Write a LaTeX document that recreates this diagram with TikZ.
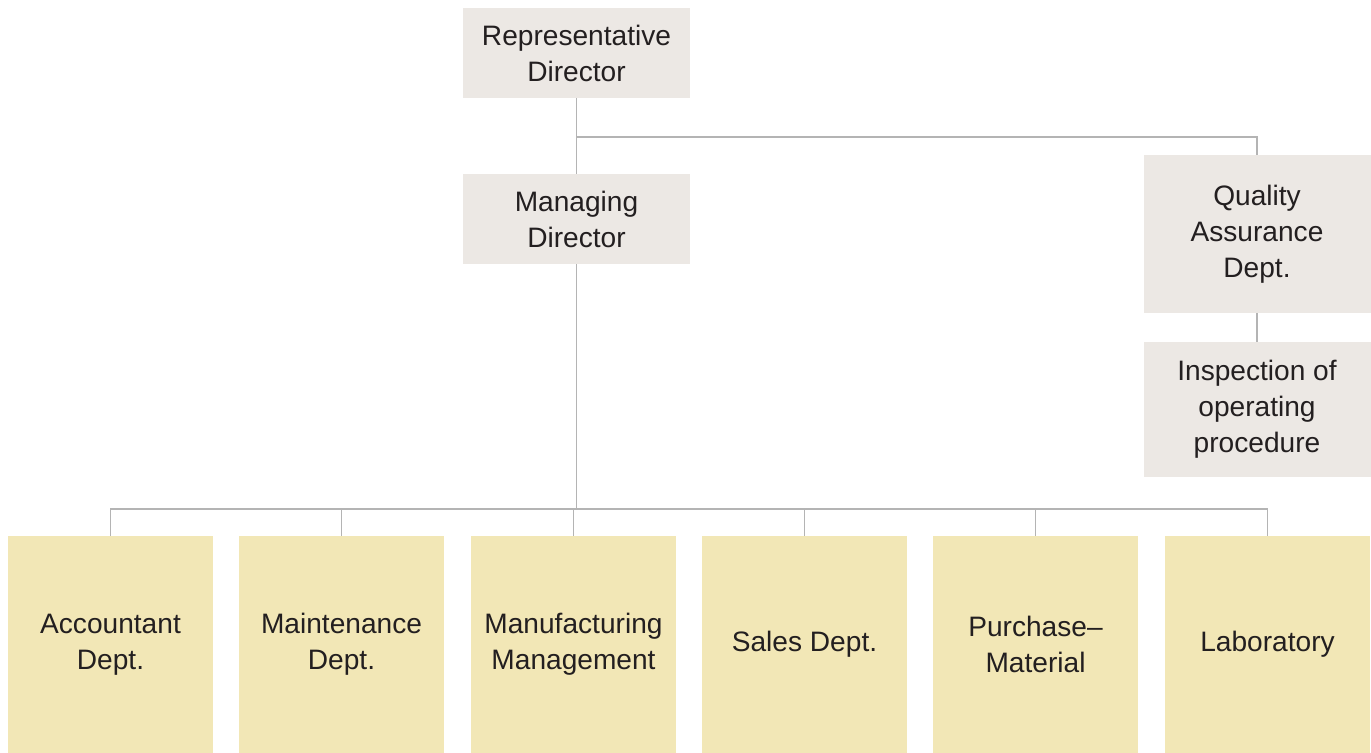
\documentclass[tikz,border=0pt]{standalone}
\usepackage{fontspec}
\setmainfont{Liberation Sans}
\definecolor{boxgray}{RGB}{236,232,228}
\definecolor{boxyellow}{RGB}{242,231,182}
\definecolor{linegray}{RGB}{180,180,180}
\definecolor{textdark}{RGB}{35,31,32}
\begin{document}
\begin{tikzpicture}[
    x=0.02cm, y=-0.02cm,
    box/.style={rectangle, inner sep=0pt, align=center, text=textdark,
                font=\fontsize{16}{20.5}\selectfont},
    headbox/.style={box, fill=boxgray, minimum width=4.54cm, minimum height=1.8cm},
    deptbox/.style={box, fill=boxyellow, minimum width=4.1cm, minimum height=4.34cm},
    link/.style={draw=linegray, line width=0.8pt}]
    \useasboundingbox (0,0) rectangle (1371,753);

    % Leitung
    \node[headbox] (rep) at (576.5,53) {Representative\\Director};
    \node[headbox] (mgr) at (576.5,219) {Managing\\Director};
    \node[headbox, minimum height=3.16cm] (qa) at (1257,234) {Quality\\Assurance\\Dept.};
    \node[headbox, minimum height=2.7cm] (insp) at (1257,409.5) {Inspection of\\operating\\procedure};

    % Abteilungen
    \node[deptbox] (acc) at (110.5,644.5) {Accountant\\Dept.};
    \node[deptbox] (mnt) at (341.5,644.5) {Maintenance\\Dept.};
    \node[deptbox] (mfg) at (573.5,644.5) {Manufacturing\\Management};
    \node[deptbox] (sales) at (804.5,644.5) {Sales Dept.};
    \node[deptbox] (pur) at (1035.5,644.5) {Purchase--\\Material};
    \node[deptbox] (lab) at (1267.5,644.5) {Laboratory};

    % Verbindungen
    \coordinate (branch) at (576.5,137);
    \coordinate (bus) at (576.5,509);
    \draw[link] (rep.south) -- (mgr.north);
    \draw[link] (branch) -| (qa.north);
    \draw[link] (qa.south) -- (insp.north);
    \draw[link] (mgr.south) -- (bus);
    \draw[link] (acc.north) |- (bus) -| (lab.north);
    \foreach \d in {mnt, mfg, sales, pur}
        \draw[link] (\d.north) -- (\d.north |- bus);
\end{tikzpicture}
\end{document}
